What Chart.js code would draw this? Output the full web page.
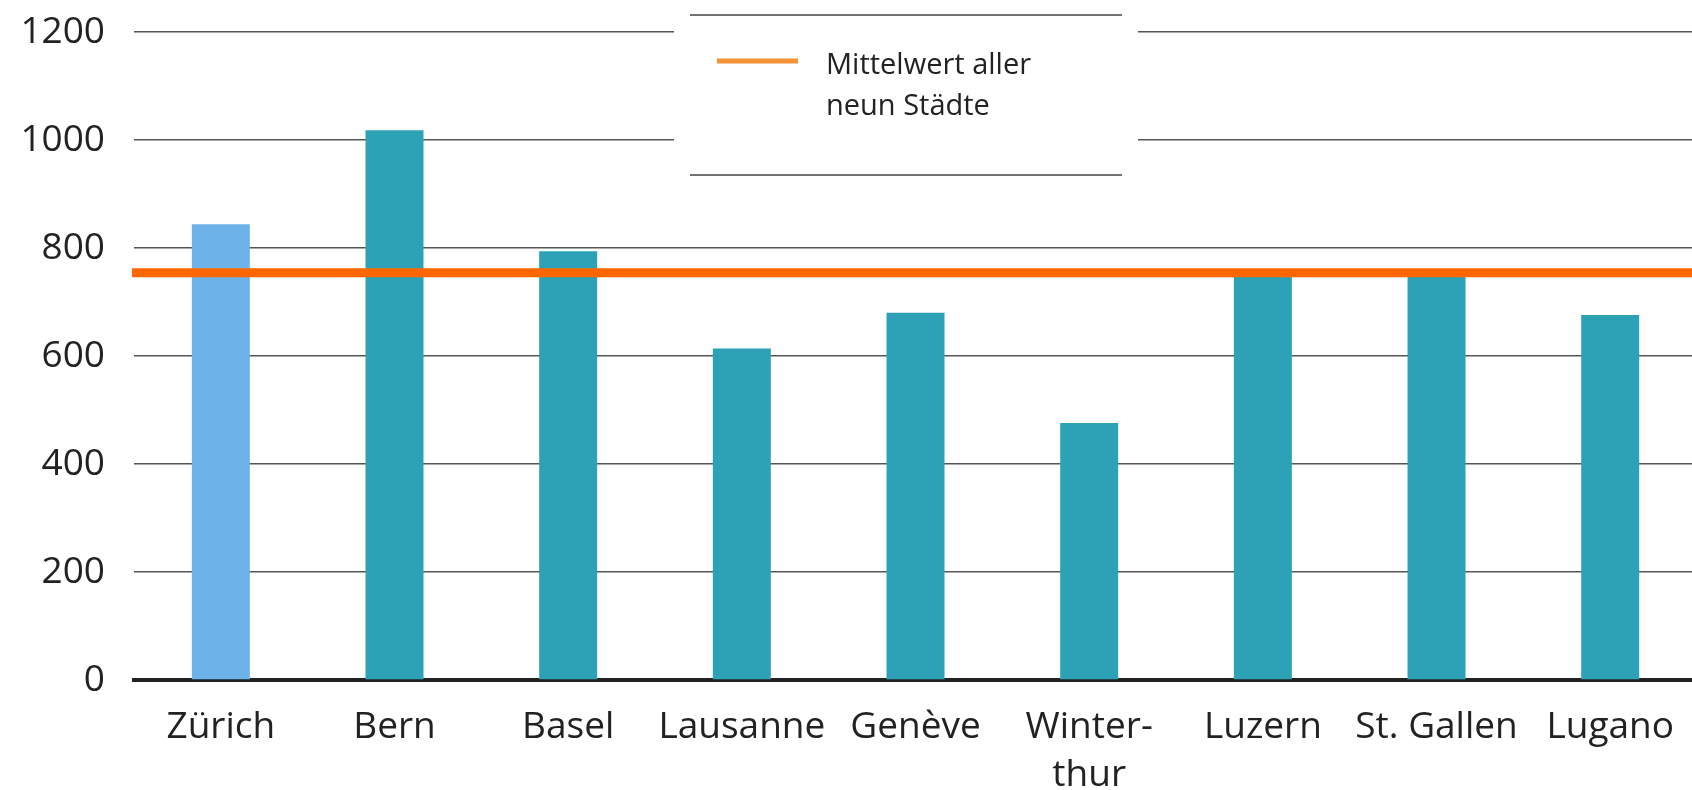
<!DOCTYPE html>
<html>
<head>
<meta charset="utf-8">
<script src="https://cdn.jsdelivr.net/npm/chart.js@4"></script>
<style>
  html, body { margin: 0; padding: 0; background: #fff; overflow: hidden; }
  #wrap { width: 1698px; height: 790px; }
</style>
</head>
<body>
<div id="wrap"><canvas id="barChart" width="1698" height="790"></canvas></div>
<script>
// data
const cities = ['Zürich', 'Bern', 'Basel', 'Lausanne', 'Genève', 'Winter-\nthur', 'Luzern', 'St. Gallen', 'Lugano'];
const values = [844, 1018, 794, 614, 680, 476, 750, 750, 676];
const meanAll = 754;
const legendLines = ['Mittelwert aller', 'neun Städte'];

const TEAL = '#2da2b7';
const ZH_BLUE = '#6db3e9';
const MEAN_ORANGE = '#ff6600';
const FONT = '"Open Sans", "DejaVu Sans", sans-serif';

// horizontal mean line across the whole plot
const meanLinePlugin = {
    id: 'meanLine',
    afterDatasetsDraw(chart) {
        const { ctx, chartArea, scales } = chart;
        const y = scales.y.getPixelForValue(meanAll);
        ctx.save();
        ctx.strokeStyle = MEAN_ORANGE;
        ctx.lineWidth = 9;
        ctx.beginPath();
        ctx.moveTo(chartArea.left - 2, y);
        ctx.lineTo(chartArea.right, y);
        ctx.stroke();
        ctx.restore();
    }
};

// boxed legend at the top
const legendBoxPlugin = {
    id: 'legendBox',
    afterDraw(chart) {
        const ctx = chart.ctx;
        ctx.save();
        ctx.fillStyle = '#fff';
        ctx.fillRect(674, 0, 464, 190);
        ctx.strokeStyle = '#444';
        ctx.lineWidth = 1.5;
        ctx.beginPath();
        ctx.moveTo(690, 15); ctx.lineTo(1122, 15);
        ctx.moveTo(690, 175); ctx.lineTo(1122, 175);
        ctx.stroke();

        ctx.strokeStyle = '#f39237';
        ctx.lineWidth = 5;
        ctx.beginPath();
        ctx.moveTo(717, 61); ctx.lineTo(798, 61);
        ctx.stroke();

        ctx.fillStyle = '#222';
        ctx.font = '29px ' + FONT;
        ctx.textBaseline = 'middle';
        ctx.textAlign = 'left';
        legendLines.forEach((line, i) => {
            ctx.fillText(line, 826, 66 + i * 41);
        });
        ctx.restore();
    }
};

const ctx = document.getElementById('barChart').getContext('2d');
const chart = new Chart(ctx, {
    type: 'bar',
    data: {
        labels: cities.map(c => c.split('\n')),
        datasets: [{
            data: values,
            backgroundColor: cities.map(c => c === 'Zürich' ? ZH_BLUE : TEAL),
            barPercentage: 0.334,
            categoryPercentage: 1
        }]
    },
    options: {
        responsive: false,
        animation: false,
        layout: { padding: { top: 32, right: 0, left: 0, bottom: 0 } },
        plugins: {
            legend: { display: false },
            tooltip: { enabled: false }
        },
        scales: {
            x: {
                grid: { display: false, drawTicks: false },
                border: { display: true, color: '#222', width: 4 },
                ticks: {
                    color: '#222',
                    font: { family: FONT, size: 37, lineHeight: 1.28 },
                    padding: 24,
                    maxRotation: 0,
                    autoSkip: false
                },
                afterFit(scale) { scale.height = 110; }
            },
            y: {
                min: 0,
                max: 1200,
                grid: {
                    color: '#555',
                    lineWidth: 1.5,
                    drawTicks: false
                },
                border: { display: false },
                ticks: {
                    stepSize: 200,
                    color: '#222',
                    font: { family: FONT, size: 37 },
                    padding: 29,
                    callback: v => String(v)
                },
                afterFit(scale) {
                    scale.width = 134;
                    scale.paddingTop = 0;
                    scale.paddingBottom = 0;
                }
            }
        }
    },
    plugins: [meanLinePlugin, legendBoxPlugin]
});
</script>
</body>
</html>
